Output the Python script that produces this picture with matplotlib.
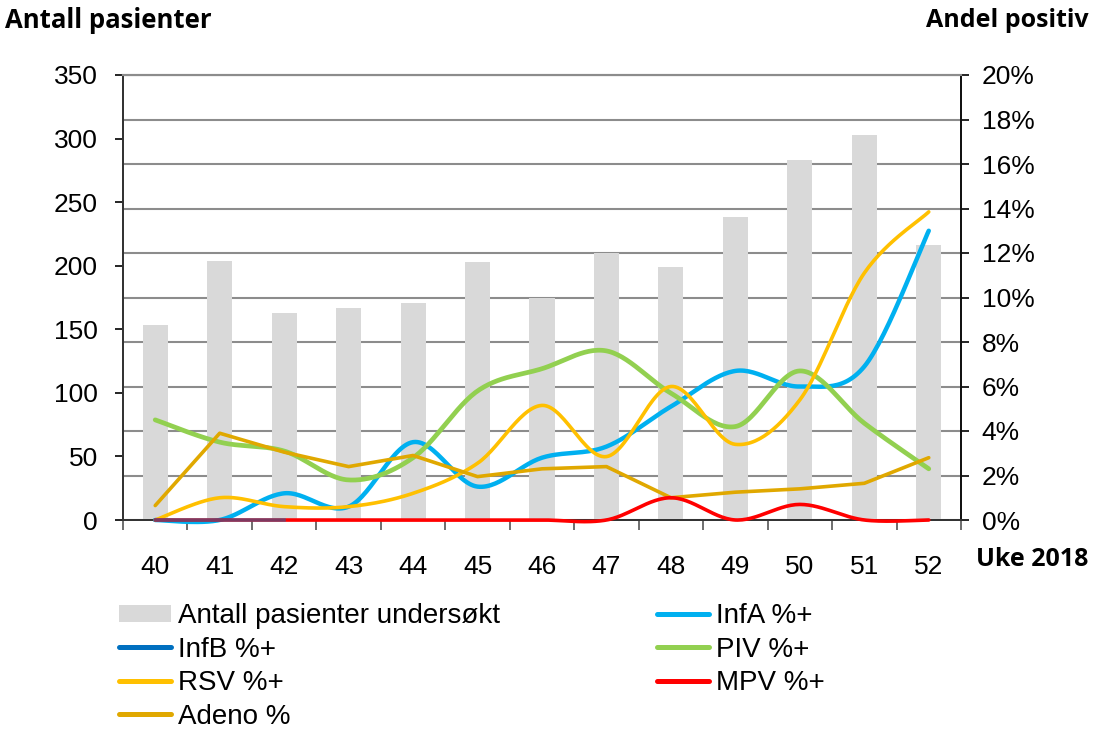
import numpy as np
import matplotlib
matplotlib.use("Agg")
import matplotlib.pyplot as plt
from matplotlib.ticker import FuncFormatter, MultipleLocator
from matplotlib.lines import Line2D

weeks = ["40", "41", "42", "43", "44", "45", "46", "47", "48", "49", "50", "51", "52"]
patients = [153, 204, 163, 167, 171, 203, 175, 210, 199, 238, 283, 303, 216]
infa = [0.0, 0.0, 1.2, 0.6, 3.5, 1.5, 2.8, 3.3, 5.1, 6.7, 6.0, 6.9, 13.0]
infb = [0.0, 0.0, 0.0]
piv = [4.5, 3.5, 3.1, 1.8, 2.8, 5.8, 6.8, 7.6, 5.7, 4.2, 6.7, 4.35, 2.3]
rsv = [0.0, 1.0, 0.6, 0.6, 1.2, 2.55, 5.15, 2.85, 6.0, 3.4, 5.4, 11.1, 13.85]
mpv = [0.0, 0.0, 0.0, 0.0, 0.0, 0.0, 0.0, 0.0, 1.0, 0.0, 0.7, 0.0, 0.0]
adeno = [0.65, 3.9, 3.05, 2.4, 2.9, 1.95, 2.3, 2.4, 1.0, 1.25, 1.4, 1.65, 2.8]

plt.rcParams['font.family'] = ['Liberation Sans', 'DejaVu Sans']
BOLD_FAMILY = ['Liberation Sans Narrow', 'Open Sans', 'DejaVu Sans']


def smooth(xs, ys, n=30):
    # Excel-like smoothed line: cubic Bezier segments with Catmull-Rom control points
    xs = np.asarray(xs, float)
    ys = np.asarray(ys, float)
    P = np.column_stack([xs, ys])
    out = [P[0]]
    t = np.linspace(0, 1, n)[1:, None]
    for i in range(len(P) - 1):
        p0 = P[i - 1] if i > 0 else P[i]
        p1, p2 = P[i], P[i + 1]
        p3 = P[i + 2] if i + 2 < len(P) else P[i + 1]
        c1 = p1 + (p2 - p0) / 6.0
        c2 = p2 - (p3 - p1) / 6.0
        seg = ((1 - t) ** 3) * p1 + 3 * ((1 - t) ** 2) * t * c1 + 3 * (1 - t) * t ** 2 * c2 + t ** 3 * p2
        out.extend(seg)
    out = np.array(out)
    return out[:, 0], out[:, 1]


fig = plt.figure(figsize=(10.94, 7.31), dpi=100)
ax = fig.add_axes([123 / 1094, 1 - 520 / 731, (961 - 123) / 1094, 445 / 731])
ax2 = ax.twinx()

x = np.arange(len(weeks))

# grid lines (aligned with right axis 2% steps)
for gy in np.linspace(0, 350, 11):
    ax.axhline(gy, color='#8c8c8c', lw=1.5, zorder=0)

bars = ax.bar(x, patients, width=0.39, color='#d9d9d9', zorder=2,
              label='Antall pasienter undersøkt')
ax.set_xlim(-0.5, len(weeks) - 0.5)
ax.set_ylim(0, 350)
ax.yaxis.set_major_locator(MultipleLocator(50))
ax.set_xticks(x)
ax.set_xticklabels(weeks)
ax.set_xticks(np.arange(-0.5, len(weeks), 1.0), minor=True)
ax.tick_params(axis='x', which='major', length=0, pad=25, labelsize=19)
ax.tick_params(axis='x', which='minor', length=7, width=1.2, color='#555555')
ax.tick_params(axis='y', which='major', length=6, width=1.2, pad=12, labelsize=19, direction='out')

ax2.set_ylim(0, 20)
ax2.yaxis.set_major_locator(MultipleLocator(2))
ax2.yaxis.set_major_formatter(FuncFormatter(lambda v, p: f"{v:.0f}%"))
ax2.tick_params(axis='y', length=6, width=1.2, pad=9, labelsize=19, direction='out')

for a in (ax, ax2):
    a.spines['top'].set_color('#8c8c8c')
    a.spines['top'].set_linewidth(1.5)
    a.spines['left'].set_color('#333333')
    a.spines['left'].set_linewidth(1.3)
    a.spines['right'].set_color('#111111')
    a.spines['right'].set_linewidth(1.3)
    a.spines['bottom'].set_color('#333333')
    a.spines['bottom'].set_linewidth(1.3)

sx, sy = smooth(x, infa)
ax2.plot(sx, sy, color='#00b0f0', lw=3.2, solid_capstyle='round', zorder=3, clip_on=False)
sx, sy = smooth(x, mpv)
ax2.plot(sx, sy, color='#ff0000', lw=2.6, solid_capstyle='round', zorder=4, clip_on=False)
ax2.plot(x[:len(infb)], infb, color='#0070c0', lw=2.6, alpha=0.5, zorder=5, clip_on=False)
sx, sy = smooth(x, piv)
ax2.plot(sx, sy, color='#92d050', lw=3.4, solid_capstyle='round', zorder=3, clip_on=False)
sx, sy = smooth(x, rsv)
ax2.plot(sx, sy, color='#ffc000', lw=2.6, solid_capstyle='round', zorder=3, clip_on=False)
ax2.plot(x, adeno, color='#e0a800', lw=2.6, solid_capstyle='round', zorder=3, clip_on=False)

leg_handles = [bars,
               Line2D([], [], color='#0070c0', lw=3.6, solid_capstyle='round'),
               Line2D([], [], color='#ffc000', lw=3.6, solid_capstyle='round'),
               Line2D([], [], color='#e0a800', lw=3.6, solid_capstyle='round'),
               Line2D([], [], color='#00b0f0', lw=3.6, solid_capstyle='round'),
               Line2D([], [], color='#92d050', lw=3.6, solid_capstyle='round'),
               Line2D([], [], color='#ff0000', lw=3.6, solid_capstyle='round')]
leg_labels = ['Antall pasienter undersøkt', 'InfB %+', 'RSV %+', 'Adeno %',
              'InfA %+', 'PIV %+', 'MPV %+']
fig.legend(leg_handles, leg_labels, ncol=2, loc='upper left',
           bbox_to_anchor=(119 / 1094, 0.175), frameon=False, fontsize=20,
           handlelength=1.87, handleheight=0.55, handletextpad=0.25, columnspacing=5.65,
           labelspacing=0.27, borderaxespad=0, borderpad=0)

fig.text(0.005, 0.972, 'Antall pasienter', fontsize=18.5, fontweight='bold',
         family=BOLD_FAMILY, ha='left', va='center')
fig.text(0.995, 0.972, 'Andel positiv', fontsize=18, fontweight='bold',
         family=BOLD_FAMILY, ha='right', va='center')
fig.text(0.995, 1 - 560 / 731, 'Uke 2018', fontsize=18, fontweight='bold',
         family=BOLD_FAMILY, ha='right', va='center')

fig.savefig('out.png', dpi=100, facecolor='white')
